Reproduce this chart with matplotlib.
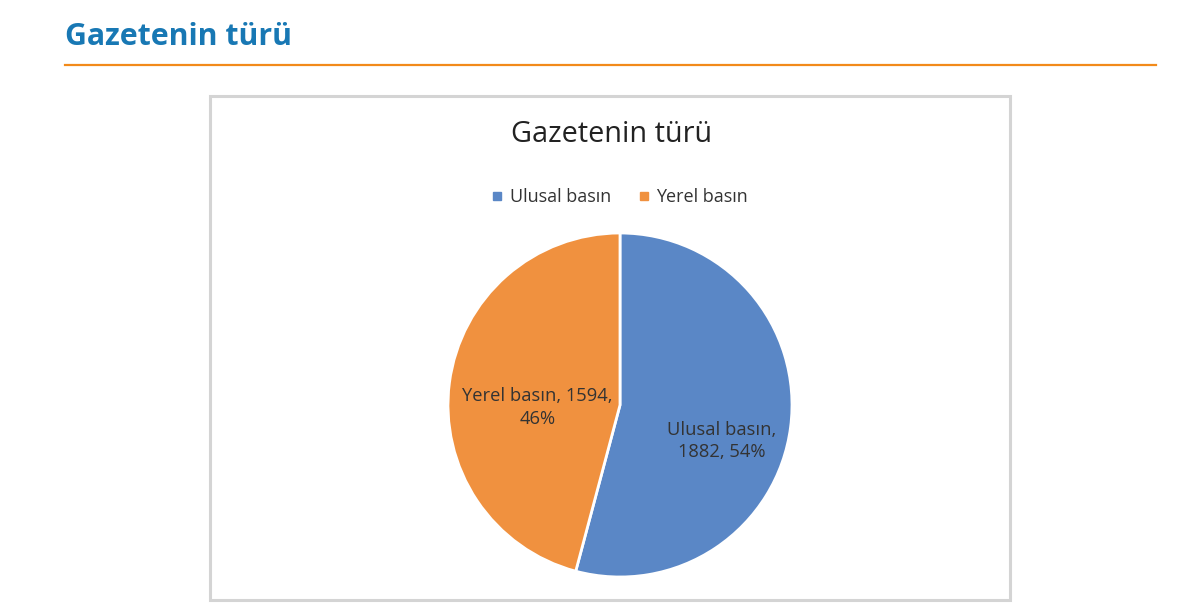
import matplotlib
matplotlib.use("Agg")
import matplotlib.pyplot as plt
from matplotlib.lines import Line2D
from matplotlib.patches import Rectangle

categories = ["Ulusal basın", "Yerel basın"]
values = [1882, 1594]
percents = ["54%", "46%"]
colors = ["#5A87C6", "#F0913F"]

W, H = 1200, 612
fig = plt.figure(figsize=(W / 100, H / 100), dpi=100)
fig.patch.set_facecolor("white")

def fx(x):
    return x / W

def fy(y):
    return 1 - y / H

# Page header
fig.text(fx(65), fy(37), "Gazetenin türü", fontsize=21.8, fontweight="bold",
         color="#1878B4", family="Open Sans", va="center", ha="left")
fig.add_artist(Line2D([fx(65), fx(1156)], [fy(64.5), fy(64.5)], color="#F28A1A", lw=1.6))

# Chart box
fig.add_artist(Rectangle((fx(210), fy(600)), fx(1010) - fx(210), fy(96) - fy(600),
                         fill=False, edgecolor="#D4D4D4", lw=2.2))

# Chart title
fig.text(fx(612), fy(134), "Gazetenin türü", fontsize=20.8, color="#222222",
         family="Open Sans", ha="center", va="center")

# Pie
cx, cy, r = 620, 405, 172
ax = fig.add_axes([fx(cx - r), fy(cy + r), 2 * r / W, 2 * r / H])
wedges, _ = ax.pie(values, colors=colors, startangle=90, counterclock=False,
                   wedgeprops=dict(edgecolor="white", linewidth=2))
ax.set_xlim(-1, 1)
ax.set_ylim(-1, 1)
ax.set_aspect("auto")
ax.axis("off")

label_pos = [(0.59, -0.21), (-0.48, -0.015)]
label_texts = [f"{categories[0]},\n{values[0]}, {percents[0]}",
               f"{categories[1]}, {values[1]},\n{percents[1]}"]
for (x, y), t in zip(label_pos, label_texts):
    ax.text(x, y, t, ha="center", va="center", fontsize=13.2, color="#333333",
            family="Open Sans", linespacing=1.3)

# Legend
handles = [Line2D([], [], marker="s", linestyle="none", markersize=6,
                  markerfacecolor=c, markeredgecolor=c) for c in colors]
fig.legend(handles, categories, loc="center", bbox_to_anchor=(fx(619), fy(197)),
           ncol=2, frameon=False, prop=dict(family="Open Sans", size=13),
           handletextpad=0.3, columnspacing=1.4, handlelength=0.8,
           labelcolor="#333333")

fig.savefig("out.png", dpi=100)
